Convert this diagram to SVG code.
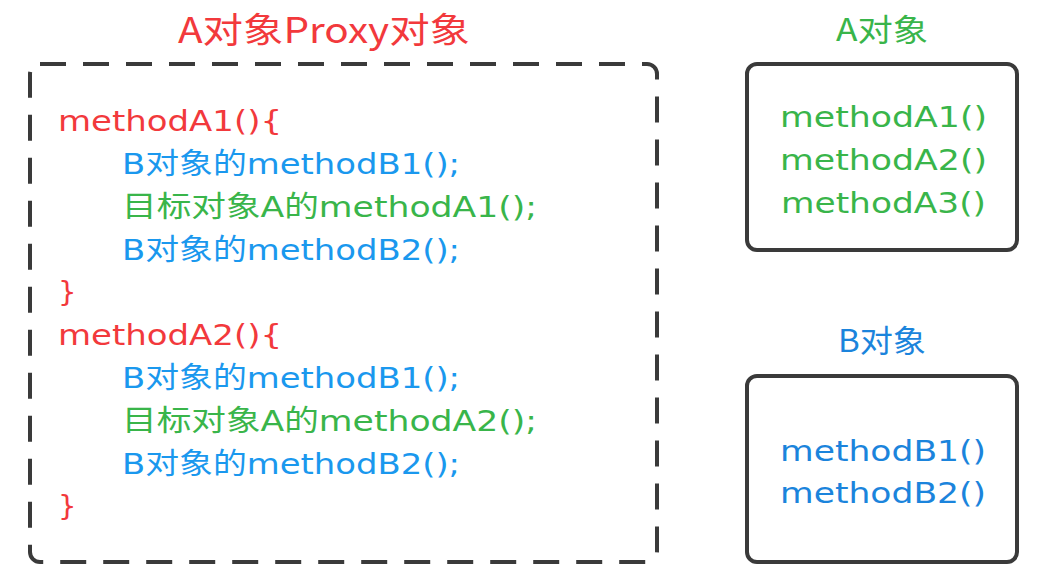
<svg xmlns="http://www.w3.org/2000/svg" width="1040" height="588" viewBox="0 0 1040 588">
<style>
text{font-family:"Noto Sans CJK SC","Noto Sans",sans-serif;}
.code text{font-family:"DejaVu Sans","Noto Sans CJK SC",sans-serif;}
.r{fill:#f2393c;}
.b{fill:#1a98ee;}
.g{fill:#39b54a;}
.bd{fill:#1b84dc;}
.code{font-size:29px;}
.box{fill:#fff;stroke:#3a3a3a;stroke-width:4;}
</style>
<rect width="1040" height="588" fill="#fff"/>
<g id="proxy">
<rect x="30" y="64" width="627" height="498" rx="10" fill="none" stroke="#3a3a3a" stroke-width="4" stroke-dasharray="26 17"/>
<text x="178" y="43" class="r" font-size="35" textLength="292" lengthAdjust="spacingAndGlyphs">A对象Proxy对象</text>
<g class="code">
<text x="58" y="131" class="r" textLength="224" lengthAdjust="spacingAndGlyphs">methodA1(){</text>
<text x="122" y="174" class="b" textLength="338" lengthAdjust="spacingAndGlyphs">B对象的methodB1();</text>
<text x="122" y="217" class="g" textLength="415" lengthAdjust="spacingAndGlyphs">目标对象A的methodA1();</text>
<text x="122" y="260" class="b" textLength="338" lengthAdjust="spacingAndGlyphs">B对象的methodB2();</text>
<text x="58" y="302" class="r">}</text>
<text x="58" y="345" class="r" textLength="224" lengthAdjust="spacingAndGlyphs">methodA2(){</text>
<text x="122" y="388" class="b" textLength="338" lengthAdjust="spacingAndGlyphs">B对象的methodB1();</text>
<text x="122" y="431" class="g" textLength="415" lengthAdjust="spacingAndGlyphs">目标对象A的methodA2();</text>
<text x="122" y="474" class="b" textLength="338" lengthAdjust="spacingAndGlyphs">B对象的methodB2();</text>
<text x="58" y="516" class="r">}</text>
</g>
</g>
<g id="objA">
<text x="836" y="41" class="g" font-size="31" textLength="92" lengthAdjust="spacingAndGlyphs">A对象</text>
<rect x="747" y="64" width="270" height="186" rx="10" class="box"/>
<g class="code g">
<text x="780" y="127" textLength="207" lengthAdjust="spacingAndGlyphs">methodA1()</text>
<text x="780" y="170" textLength="207" lengthAdjust="spacingAndGlyphs">methodA2()</text>
<text x="781" y="213" textLength="205" lengthAdjust="spacingAndGlyphs">methodA3()</text>
</g>
</g>
<g id="objB">
<text x="838" y="352" class="bd" font-size="31" textLength="88" lengthAdjust="spacingAndGlyphs">B对象</text>
<rect x="747" y="376" width="270" height="186" rx="10" class="box"/>
<g class="code bd">
<text x="780" y="461" textLength="206" lengthAdjust="spacingAndGlyphs">methodB1()</text>
<text x="780" y="503" textLength="206" lengthAdjust="spacingAndGlyphs">methodB2()</text>
</g>
</g>
<g id="connectors"></g>
</svg>
